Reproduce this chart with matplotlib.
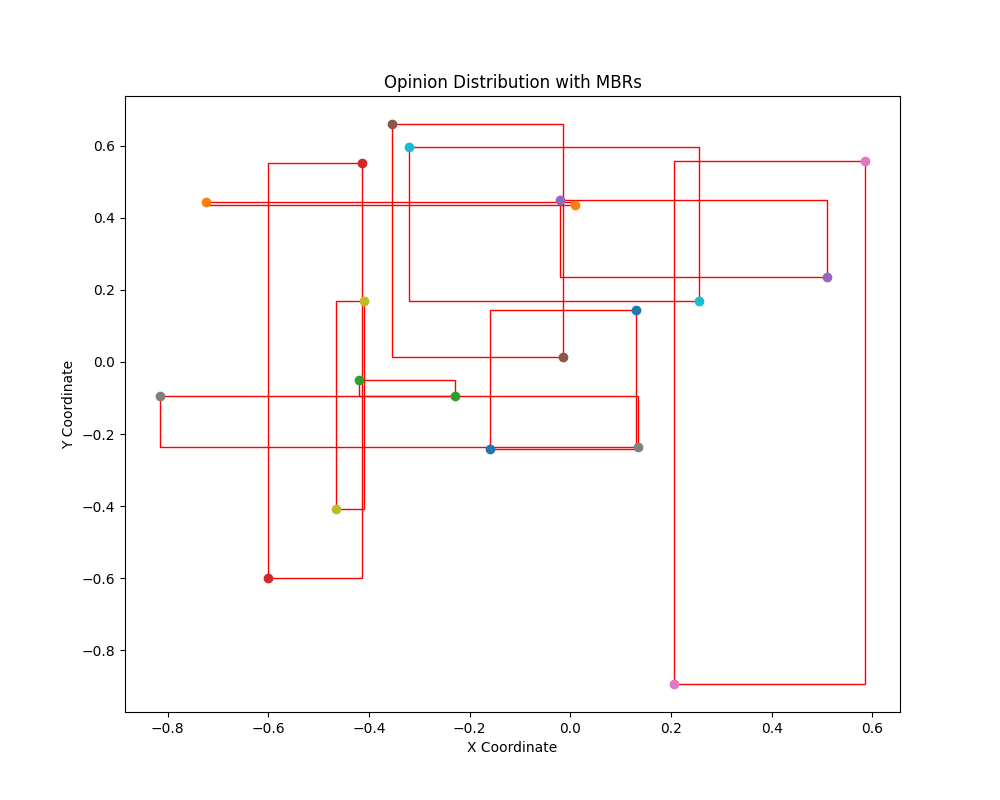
import matplotlib
matplotlib.use("Agg")
import matplotlib.pyplot as plt
from matplotlib.patches import Rectangle

# each opinion pair: two points, one MBR
xs_a = [0.13, -0.725, -0.42, -0.415, -0.02, -0.355, 0.585, -0.815, -0.41, -0.32]
ys_a = [0.145, 0.443, -0.05, 0.553, 0.45, 0.66, 0.558, -0.093, 0.17, 0.595]
xs_b = [-0.16, 0.01, -0.23, -0.6, 0.51, -0.015, 0.205, 0.135, -0.465, 0.255]
ys_b = [-0.24, 0.435, -0.095, -0.6, 0.237, 0.013, -0.893, -0.237, -0.407, 0.17]

fig, ax = plt.subplots(figsize=(10, 8), dpi=100)
for i in range(len(xs_a)):
    c = f"C{i}"
    ax.scatter([xs_a[i], xs_b[i]], [ys_a[i], ys_b[i]], color=c, zorder=3)
    x0, x1 = min(xs_a[i], xs_b[i]), max(xs_a[i], xs_b[i])
    y0, y1 = min(ys_a[i], ys_b[i]), max(ys_a[i], ys_b[i])
    ax.add_patch(Rectangle((x0, y0), x1 - x0, y1 - y0, fill=False,
                           edgecolor="red", linewidth=1))
ax.set_title("Opinion Distribution with MBRs")
ax.set_xlabel("X Coordinate")
ax.set_ylabel("Y Coordinate")
fig.savefig("out.png")
